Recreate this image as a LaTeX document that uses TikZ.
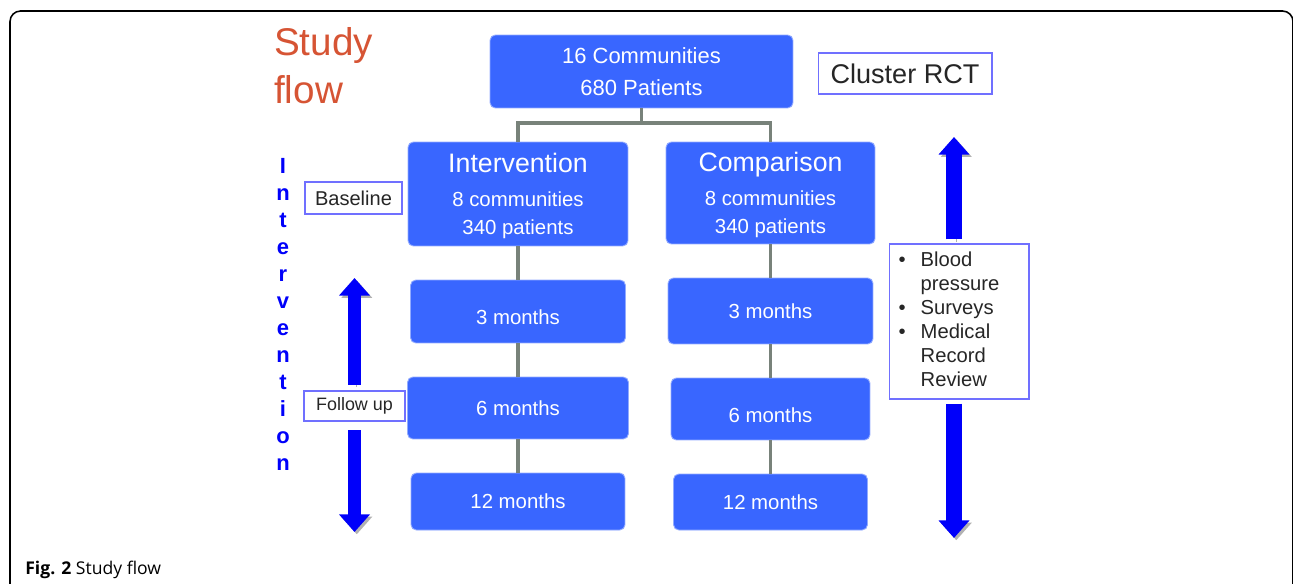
\documentclass[tikz,border=0pt]{standalone}
\usepackage{fontspec}
\usepackage{xcolor}
\usepackage{tikz}
\usetikzlibrary{arrows.meta}
\setmainfont{Liberation Sans}
\newfontfamily\capfont{Open Sans}

\definecolor{boxblue}{RGB}{57,102,255}
\definecolor{linkgray}{RGB}{120,130,122}
\definecolor{tagblue}{RGB}{112,112,255}
\definecolor{titlered}{RGB}{214,84,52}
\definecolor{arrowblue}{RGB}{0,0,250}

\tikzset{
  stage/.style={rectangle,rounded corners=3pt,fill=boxblue,draw=boxblue!55!white,
    line width=0.5pt,text=white,inner sep=0pt,align=center,
    font=\fontsize{11.6}{16.4}\selectfont},
  tag/.style={rectangle,draw=tagblue,fill=white,line width=0.6pt,inner sep=0pt,
    align=center,text=black!85},
  link/.style={draw=linkgray,line width=2pt},
  bigarrow/.style={line width=7.5pt,draw=arrowblue,
    -{Triangle[width=17pt,length=10pt]},
    preaction={draw=black!30,transform canvas={shift={(1.3pt,-1.3pt)}}}}
}
\newcommand{\lowered}[2]{\raisebox{-#1}[\height][\depth]{#2}}
\newcommand{\armhead}[1]{\lowered{1.2pt}{\fontsize{15.2}{16.4}\selectfont\rule{0pt}{12.2pt}#1}}

\begin{document}
\begin{tikzpicture}[x=0.02cm,y=-0.02cm]
\useasboundingbox (0,0) rectangle (1293,584);
\draw[line width=0.9pt,rounded corners=6pt] (10,11) rectangle (1293,610);

% title
\node (title) at (268,21) [anchor=north west,text=titlered,align=left,
  font=\fontsize{22}{27.5}\selectfont] {Study\\flow};

% top of the flow
\node (top) at (641.5,71.5) [stage,minimum width=6.06cm,minimum height=1.46cm,
  font=\fontsize{12.5}{18.1}\selectfont] {16 Communities\\680 Patients};
\node (rct) at (905,73.5) [tag,minimum width=3.48cm,minimum height=0.82cm,
  font=\fontsize{15.4}{17}\selectfont] {Cluster RCT};

% two arms
\node (int) at (518,194) [stage,minimum width=4.4cm,minimum height=2.08cm]
  {\armhead{Intervention}\\[4pt]8 communities\\340 patients};
\node (cmp) at (770.5,193) [stage,minimum width=4.18cm,minimum height=2.04cm]
  {\armhead{Comparison}\\[4pt]8 communities\\340 patients};

% follow up, intervention arm
\node (l3)  at (518,311.5) [stage,minimum width=4.3cm,minimum height=1.26cm]  {\lowered{3.2pt}{3 months}};
\node (l6)  at (518,408)   [stage,minimum width=4.42cm,minimum height=1.24cm] {6 months};
\node (l12) at (518,501.5) [stage,minimum width=4.28cm,minimum height=1.14cm] {12 months};

% follow up, comparison arm
\node (r3)  at (770.5,311) [stage,minimum width=4.1cm,minimum height=1.32cm]  {3 months};
\node (r6)  at (770.5,409) [stage,minimum width=3.98cm,minimum height=1.24cm] {\lowered{3.4pt}{6 months}};
\node (r12) at (770.5,502) [stage,minimum width=3.88cm,minimum height=1.12cm] {12 months};

\coordinate (split) at (641.5,123);
\draw[link] (top.south) -- (split);
\draw[link] (split) -| (int.north);
\draw[link] (split) -| (cmp.north);
\draw[link] (int.south) -- (l3.north);
\draw[link] (l3.south) -- (l6.north);
\draw[link] (l6.south) -- (l12.north);
\draw[link] (cmp.south) -- (r3.north);
\draw[link] (r3.south) -- (r6.north);
\draw[link] (r6.south) -- (r12.north);

% left side
\node (word) at (283,314.5) [text=arrowblue,align=center,
  font=\bfseries\fontsize{12.5}{15.4}\selectfont]
  {I\\n\\t\\e\\r\\v\\e\\n\\t\\i\\o\\n};
\node (base) at (353.5,198) [tag,minimum width=1.94cm,minimum height=0.64cm,
  font=\fontsize{11.4}{12}\selectfont] {Baseline};
\node (fu) at (354.5,406) [tag,minimum width=2.02cm,minimum height=0.6cm,
  font=\fontsize{10.2}{12}\selectfont] {Follow up};
\coordinate (lup) at (354.5,278);
\coordinate (ldown) at (354.5,532);
\draw[bigarrow,shorten <=3.4pt] (fu.north) -- (lup);
\draw[bigarrow,shorten <=5pt] (fu.south) -- (ldown);

% right side
\node (bp) at (959,321.5) [tag,minimum width=2.8cm,minimum height=3.1cm,
  text width=2.8cm,align=left,inner xsep=0pt,
  font=\fontsize{11.5}{13.6}\selectfont]
  {\begin{tabular}{@{\hspace{5.5pt}}l@{\hspace{8.5pt}}l@{}}
   \textbullet & Blood\\ & pressure\\
   \textbullet & Surveys\\
   \textbullet & Medical\\ & Record\\ & Review
   \end{tabular}};
\coordinate (rup) at (954,137);
\coordinate (rdown) at (954,538);
\draw[bigarrow,line width=9pt,shorten <=2.3pt] (bp.north -| rup) -- (rup);
\draw[bigarrow,line width=9pt,shorten <=2.3pt] (bp.south -| rdown) -- (rdown);

% caption
\node (cap) at (25,574) [anchor=base west,inner sep=0pt,
  font=\capfont\fontsize{10}{12}\selectfont]
  {\textbf{Fig. 2} Study flow};
\end{tikzpicture}
\end{document}
